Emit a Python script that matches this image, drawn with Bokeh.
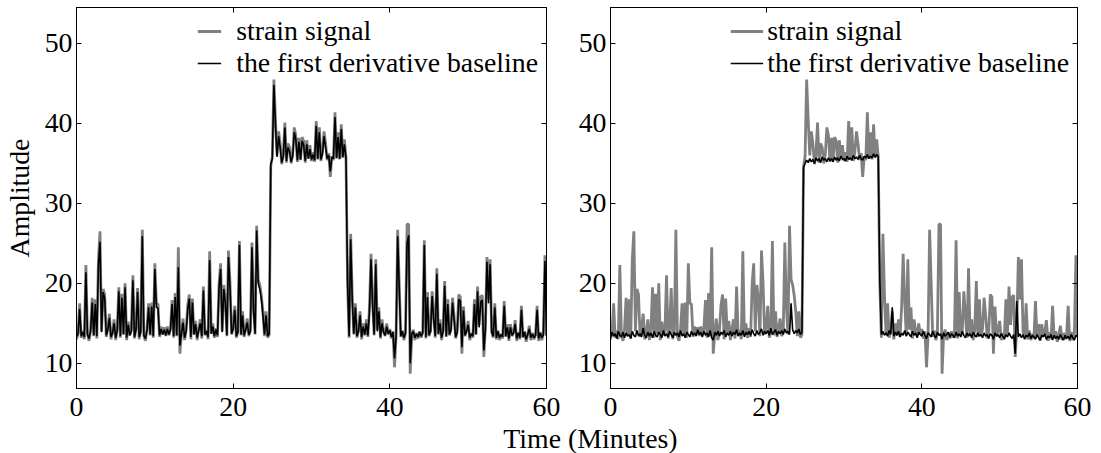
from bokeh.plotting import figure
from bokeh.models import Range1d, FixedTicker, LinearAxis, CustomJSTickFormatter
from bokeh.layouts import row, column
from bokeh.core.properties import value
from bokeh.embed import file_html
from bokeh.resources import INLINE

# ---------------- data (0.2 min sampling) ----------------
TIME = [round(0.2 * i, 1) for i in range(301)]

STRAIN = [
    13.0, 13.8, 17.5, 13.2, 14.1, 13.0, 22.3, 13.6, 12.8, 14.2,
    18.2, 13.4, 18.0, 13.1, 23.0, 26.5, 14.0, 19.3, 18.6, 13.3,
    14.4, 16.2, 13.0, 13.9, 15.5, 12.9, 14.3, 19.5, 13.2, 18.7,
    13.6, 20.0, 12.9, 15.2, 13.5, 14.2, 21.0, 13.1, 14.4, 19.4,
    13.0, 14.1, 26.7, 13.4, 12.8, 14.3, 17.5, 13.5, 17.6, 13.2,
    22.5, 17.5, 17.4, 13.3, 14.6, 13.6, 14.5, 13.4, 14.6, 13.5,
    14.4, 17.9, 13.2, 18.8, 13.4, 24.5, 11.2, 13.8, 15.6, 12.9,
    14.2, 17.3, 18.6, 13.0, 18.1, 13.6, 15.3, 12.9, 14.3, 15.5,
    13.1, 19.6, 13.5, 14.2, 13.0, 24.0, 13.7, 15.0, 13.2, 14.4,
    13.3, 20.0, 22.5, 14.0, 19.8, 18.1, 13.4, 24.1, 20.0, 13.6,
    14.5, 17.2, 13.2, 14.0, 25.3, 13.5, 16.5, 13.3, 14.4, 15.6,
    13.4, 14.2, 25.1, 17.0, 13.6, 27.2, 20.5, 19.8, 18.5, 16.5,
    13.4, 16.5, 13.2, 13.6, 34.6, 35.9, 45.5, 40.5, 36.0, 39.0,
    37.5, 34.9, 36.2, 40.1, 35.1, 37.5, 37.0, 35.0, 36.1, 39.5,
    38.5, 35.2, 38.2, 35.4, 38.3, 37.8, 35.1, 37.9, 35.6, 37.3,
    35.3, 36.4, 35.2, 40.3, 35.5, 39.5, 35.3, 36.5, 39.0, 37.5,
    35.4, 36.3, 33.3, 35.9, 35.4, 41.4, 35.6, 38.9, 35.5, 39.9,
    35.7, 38.0, 35.8, 20.0, 13.2, 26.2, 18.5, 13.6, 17.5, 13.2,
    14.1, 16.5, 13.0, 15.0, 13.5, 15.5, 13.3, 17.0, 23.7, 17.7,
    13.5, 23.0, 14.2, 17.0, 13.1, 15.5, 14.0, 13.4, 15.0, 13.6,
    14.3, 13.1, 14.0, 9.5, 13.4, 26.7, 20.0, 13.3, 14.1, 12.9,
    13.8, 27.4, 27.4, 8.7, 13.6, 14.2, 12.9, 13.8, 13.1, 14.0,
    13.2, 13.9, 25.4, 13.1, 18.9, 13.4, 14.1, 19.0, 16.0, 13.2,
    21.9, 13.6, 15.5, 12.9, 14.2, 20.3, 13.3, 18.0, 13.5, 14.3,
    18.2, 16.0, 13.1, 14.0, 18.6, 18.3, 11.2, 17.1, 13.4, 14.2,
    15.3, 12.9, 13.8, 13.2, 18.0, 13.6, 19.6, 14.8, 18.3, 18.5,
    10.8, 14.5, 23.3, 18.0, 23.0, 14.0, 13.2, 17.5, 13.0, 14.1,
    12.9, 13.7, 13.1, 17.8, 13.3, 14.9, 12.8, 14.9, 13.4, 13.9,
    15.4, 12.8, 13.9, 13.0, 17.2, 13.2, 14.0, 12.7, 13.6, 14.7,
    12.9, 13.8, 13.0, 13.5, 17.2, 12.8, 13.9, 12.9, 13.7, 23.5,
    13.4,
]

# left panel: the first derivative baseline (follows the spikes)
BASE_LEFT = [
    13.3, 13.7, 16.8, 13.4, 13.9, 13.3, 21.4, 13.6, 13.1, 14.0,
    17.6, 13.5, 17.4, 13.4, 22.3, 25.2, 13.9, 18.9, 18.1, 13.5,
    14.2, 15.7, 13.3, 13.8, 15.0, 13.2, 14.1, 19.0, 13.4, 18.2,
    13.6, 19.5, 13.2, 14.8, 13.5, 14.0, 20.4, 13.3, 14.2, 18.9,
    13.3, 13.9, 25.9, 13.5, 13.1, 14.1, 17.0, 13.6, 17.1, 13.4,
    21.8, 17.0, 16.9, 13.5, 14.3, 13.6, 14.2, 13.5, 14.3, 13.6,
    14.2, 17.4, 13.4, 18.3, 13.5, 22.0, 12.2, 13.7, 15.1, 13.2,
    14.0, 16.8, 18.1, 13.3, 17.6, 13.6, 14.9, 13.2, 14.1, 15.0,
    13.4, 19.1, 13.6, 14.0, 13.3, 22.9, 13.7, 14.6, 13.4, 14.2,
    13.5, 19.5, 21.8, 13.9, 19.3, 17.6, 13.5, 23.3, 19.4, 13.7,
    14.3, 16.7, 13.4, 13.9, 24.8, 13.6, 16.0, 13.5, 14.2, 15.1,
    13.6, 14.0, 24.5, 16.5, 13.7, 26.6, 20.0, 19.3, 18.0, 16.0,
    13.6, 16.0, 13.4, 13.7, 34.9, 35.6, 44.8, 39.8, 35.8, 38.4,
    37.0, 35.1, 35.9, 39.5, 35.3, 37.0, 36.5, 35.2, 35.9, 38.9,
    38.0, 35.4, 37.7, 35.5, 37.8, 37.3, 35.3, 37.4, 35.6, 36.8,
    35.5, 36.1, 35.4, 39.7, 35.6, 38.9, 35.5, 36.2, 38.4, 37.0,
    35.6, 36.0, 34.0, 35.8, 35.6, 40.8, 35.7, 38.3, 35.6, 39.3,
    35.8, 37.4, 35.7, 20.5, 13.4, 25.5, 18.0, 13.7, 17.0, 13.4,
    14.0, 16.0, 13.3, 14.6, 13.6, 15.0, 13.5, 16.5, 23.0, 17.2,
    13.6, 22.4, 14.0, 16.5, 13.3, 15.0, 13.9, 13.5, 14.6, 13.7,
    14.1, 13.3, 13.9, 10.6, 13.5, 25.9, 19.4, 13.4, 14.0, 13.2,
    13.8, 25.0, 26.0, 10.0, 13.7, 14.0, 13.2, 13.7, 13.3, 13.9,
    13.4, 13.8, 24.8, 13.3, 18.3, 13.5, 14.0, 18.4, 15.5, 13.4,
    21.2, 13.7, 15.0, 13.2, 14.0, 19.7, 13.4, 17.4, 13.6, 14.1,
    17.6, 15.5, 13.3, 13.9, 18.0, 17.8, 12.0, 16.6, 13.5, 14.0,
    14.8, 13.2, 13.7, 13.4, 17.4, 13.6, 19.0, 14.5, 17.7, 17.9,
    11.6, 14.3, 22.7, 17.5, 22.4, 13.9, 13.4, 17.0, 13.2, 14.0,
    13.2, 13.6, 13.3, 17.2, 13.4, 14.5, 13.1, 14.5, 13.5, 13.8,
    14.9, 13.1, 13.8, 13.2, 16.7, 13.3, 13.9, 13.0, 13.6, 14.3,
    13.2, 13.7, 13.2, 13.5, 16.7, 13.1, 13.8, 13.2, 13.6, 22.8,
    13.5,
]

# right panel: the first derivative baseline (spikes removed)
BASE_RIGHT = [
    13.2, 13.9, 13.4, 13.7, 13.1, 14.0, 13.5, 13.3, 13.9, 13.2,
    13.8, 13.4, 13.6, 13.1, 14.0, 13.5, 13.3, 14.1, 13.4, 13.7,
    13.3, 14.4, 13.5, 13.2, 13.9, 13.4, 13.8, 13.2, 14.0, 13.5,
    13.3, 13.9, 13.6, 13.2, 14.1, 13.4, 13.7, 13.3, 14.0, 13.6,
    13.2, 13.9, 13.5, 13.8, 13.3, 14.1, 13.4, 13.7, 13.2, 13.9,
    13.6, 13.3, 14.0, 13.5, 13.8, 13.4, 14.2, 13.6, 13.9, 13.3,
    14.0, 13.5, 13.8, 13.3, 14.1, 13.2, 12.9, 13.9, 13.5, 14.0,
    13.4, 13.9, 13.6, 14.1, 13.3, 13.8, 13.5, 14.0, 13.4, 13.9,
    13.6, 14.2, 13.4, 13.8, 13.5, 14.1, 13.3, 13.9, 13.6, 14.0,
    13.5, 14.2, 13.7, 13.4, 14.1, 13.6, 13.9, 14.3, 13.5, 14.0,
    13.7, 14.1, 13.5, 14.4, 13.6, 13.9, 14.2, 13.5, 14.0, 13.7,
    14.1, 13.6, 14.3, 13.8, 14.0, 13.6, 17.5, 14.2, 13.7, 14.1,
    13.8, 14.3, 13.6, 13.9, 34.5, 35.0, 35.4, 35.1, 35.6, 35.2,
    35.5, 35.0, 35.7, 35.3, 35.6, 35.1, 35.8, 35.4, 35.6, 35.2,
    35.7, 35.3, 35.6, 35.2, 35.8, 35.4, 35.7, 35.3, 35.9, 35.5,
    35.6, 35.3, 35.9, 35.5, 35.7, 35.4, 36.0, 35.6, 35.8, 35.5,
    36.0, 35.6, 35.4, 35.9, 35.7, 36.1, 35.6, 35.9, 35.7, 36.2,
    35.8, 36.1, 35.9, 20.5, 13.6, 14.0, 13.5, 13.8, 13.4, 14.1,
    13.6, 17.0, 13.4, 13.9, 13.5, 14.0, 13.3, 13.8, 13.5, 14.1,
    13.4, 13.9, 13.6, 13.3, 14.0, 13.5, 13.8, 13.2, 13.9, 13.6,
    13.4, 14.0, 13.5, 13.1, 13.8, 13.6, 13.3, 14.0, 13.5, 13.2,
    13.9, 13.5, 13.7, 13.0, 13.8, 13.4, 13.6, 13.9, 13.3, 13.7,
    13.5, 13.2, 13.9, 13.4, 13.7, 13.3, 14.0, 13.5, 13.2, 13.8,
    13.4, 13.7, 13.2, 13.9, 13.5, 13.3, 13.8, 13.4, 13.6, 13.2,
    13.8, 13.4, 13.6, 13.1, 13.7, 13.5, 13.0, 13.8, 13.4, 13.6,
    13.2, 13.7, 13.4, 13.0, 13.6, 13.3, 13.8, 13.4, 13.1, 13.6,
    11.2, 17.8, 13.3, 13.7, 13.2, 13.6, 13.0, 13.5, 13.3, 13.8,
    13.1, 13.5, 13.3, 13.0, 13.6, 13.2, 12.9, 13.5, 13.3, 13.7,
    13.0, 13.4, 13.2, 13.6, 12.9, 13.5, 13.1, 13.4, 13.0, 13.6,
    13.2, 12.9, 13.5, 13.1, 13.4, 13.0, 13.6, 13.2, 12.9, 13.5,
    13.3,
]

X_TICKS = [0, 20, 40, 60]
Y_TICKS = [10, 20, 30, 40, 50]
LEGEND_LABELS = ["strain signal", "the first derivative baseline"]
X_TITLE = "Time (Minutes)"
Y_TITLE = "Amplitude"

FONT = "Liberation Serif"
FS = "27.8px"
GRAY = "#808080"
PANEL_H = 428
LABEL_H = 40


def blank_axis(ticks):
    return LinearAxis(
        ticker=FixedTicker(ticks=ticks),
        formatter=CustomJSTickFormatter(code="return ''"),
        major_tick_in=5, major_tick_out=0,
        minor_tick_line_color=None,
        major_label_text_font_size="1px",
        major_label_standoff=0,
        axis_line_color="black",
    )


def make_panel(width, left, right, top, base, ylabel, glyph_w, standoff):
    p = figure(
        width=width, height=PANEL_H,
        min_border_left=left, min_border_right=right,
        min_border_top=top, min_border_bottom=PANEL_H - 388,
        x_range=Range1d(0, 60), y_range=Range1d(6.85, 54.5),
        output_backend="svg", toolbar_location=None,
    )
    p.line(TIME, STRAIN, line_color=GRAY, line_width=2.8, legend_label=LEGEND_LABELS[0])
    p.line(TIME, base, line_color="black", line_width=1.6, legend_label=LEGEND_LABELS[1])

    p.xgrid.visible = False
    p.ygrid.visible = False
    p.outline_line_color = "black"

    for ax in (p.xaxis[0], p.yaxis[0]):
        ax.major_tick_in = 5
        ax.major_tick_out = 0
        ax.minor_tick_line_color = None
        ax.major_label_text_font = FONT
        ax.major_label_text_font_size = FS
        ax.major_label_text_color = "black"
        ax.axis_line_color = "black"
    p.xaxis[0].major_label_standoff = 9
    p.yaxis[0].major_label_standoff = 4
    p.xaxis[0].ticker = FixedTicker(ticks=X_TICKS)
    p.yaxis[0].ticker = FixedTicker(ticks=Y_TICKS)
    if ylabel:
        p.yaxis[0].axis_label = ylabel
        p.yaxis[0].axis_label_text_font = FONT
        p.yaxis[0].axis_label_text_font_size = FS
        p.yaxis[0].axis_label_text_font_style = "normal"
        p.yaxis[0].axis_label_text_color = "black"
        p.yaxis[0].axis_label_standoff = 7
    p.add_layout(blank_axis(Y_TICKS), "right")
    p.add_layout(blank_axis(X_TICKS), "above")

    lg = p.legend[0]
    lg.location = "top_right"
    lg.border_line_color = None
    lg.background_fill_alpha = 0
    lg.label_text_font = FONT
    lg.label_text_font_size = FS
    lg.label_text_color = "black"
    lg.glyph_width = glyph_w
    lg.label_standoff = standoff
    lg.spacing = -2
    lg.padding = 6
    lg.margin = 8
    return p


p1 = make_panel(560, 72, 14, 7, BASE_LEFT, Y_TITLE, 24, 15)
p2 = make_panel(541, 50, 24, 5, BASE_RIGHT, None, 33, 4)

# shared x-axis title spanning both panels (transparent strip overlapping the panels' bottoms)
p3 = figure(width=1101, height=LABEL_H, x_range=Range1d(0, 1101), y_range=Range1d(0, LABEL_H),
            min_border=0, title=None, output_backend="svg", toolbar_location=None,
            margin=(453 - PANEL_H - LABEL_H, 0, 0, 0))
p3.axis.visible = False
p3.grid.visible = False
p3.outline_line_color = None
p3.background_fill_color = None
p3.border_fill_color = None
p3.text(x=[590], y=[15.3], text=[X_TITLE], text_font=value(FONT), text_font_size=FS,
        text_align="center", text_baseline="middle", text_color="black")

layout = column(row(p1, p2, spacing=0), p3, spacing=0)
open("out.html", "w").write(file_html(layout, INLINE))
